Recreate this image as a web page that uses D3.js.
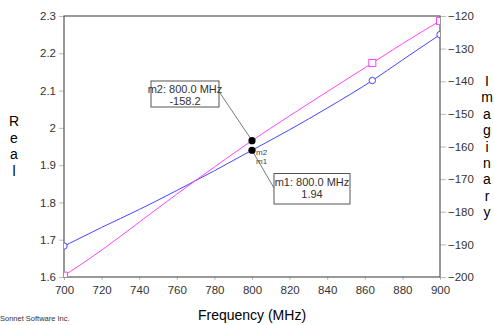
<!DOCTYPE html>
<html>
<head>
<meta charset="utf-8">
<script src="https://cdn.jsdelivr.net/npm/d3@7"></script>
<style>
  body { margin: 0; background: #fff; }
  svg { display: block; font-family: "Liberation Sans", Arial, sans-serif; }
</style>
</head>
<body>
<svg id="chart" width="494" height="325"></svg>
<script>
// --- data ---
const freqs    = [700, 720, 740, 760, 780, 800, 820, 840, 864, 880, 900];
const realVals = [1.683, 1.733, 1.781, 1.832, 1.885, 1.94, 1.995, 2.053, 2.127, 2.182, 2.25];
const imagVals = [-199.6, -191.8, -183.2, -174.6, -166.3, -158.2, -150.6, -143.2, -134.4, -128.5, -121.5];
const symbolFreqs = [700, 864, 900];
const xTicks    = [700, 720, 740, 760, 780, 800, 820, 840, 860, 880, 900];
const realTicks = [1.6, 1.7, 1.8, 1.9, 2, 2.1, 2.2, 2.3];
const imagTicks = [-200, -190, -180, -170, -160, -150, -140, -130, -120];
const markers = [
  { name: 'm1', freq: 800, value: 1.94, axis: 'real', text: '1.94' },
  { name: 'm2', freq: 800, value: -158.2, axis: 'imag', text: '-158.2' }
];

const svg = d3.select('#chart');
const L = 64, R = 440, T = 16, B = 277;

const x = d3.scaleLinear().domain([700, 900]).range([L, R]);
const yR = d3.scaleLinear().domain([1.6, 2.3]).range([B, T]);
const yI = d3.scaleLinear().domain([-200, -120]).range([B, T]);

const TXT = '#333';

svg.append('defs').append('clipPath').attr('id', 'plotClip')
  .append('rect').attr('x', L).attr('y', T).attr('width', R - L).attr('height', B - T);

// axes
const xAxis = svg.append('g').attr('transform', `translate(0,${B})`)
  .call(d3.axisBottom(x).tickValues(xTicks).tickSize(3).tickPadding(6).tickFormat(d3.format('d')));
const lAxis = svg.append('g').attr('transform', `translate(${L},0)`)
  .call(d3.axisLeft(yR).tickValues(realTicks).tickSize(5).tickPadding(3).tickFormat(d => d === 2 ? '2' : d3.format('.1f')(d)));
const rAxis = svg.append('g').attr('transform', `translate(${R},0)`)
  .call(d3.axisRight(yI).tickValues(imagTicks).tickSize(6).tickPadding(2).tickFormat(d3.format('d')));
[xAxis, lAxis, rAxis].forEach(a => {
  a.select('.domain').remove();
  a.selectAll('.tick line').attr('stroke', '#bbb');
  a.selectAll('.tick text').attr('fill', TXT).attr('font-size', 11.5)
    .attr('font-family', '"Liberation Sans", Arial, sans-serif');
});

// plot frame
svg.append('rect').attr('x', L).attr('y', T).attr('width', R - L).attr('height', B - T)
  .attr('fill', 'none').attr('stroke', '#555').attr('stroke-width', 1.2);

const plot = svg.append('g').attr('clip-path', 'url(#plotClip)');

const realData = freqs.map((f, i) => ({ f, v: realVals[i] }));
const imagData = freqs.map((f, i) => ({ f, v: imagVals[i] }));

const BLUE = '#4646ff', PINK = '#ff44ff';

plot.append('path').datum(realData)
  .attr('d', d3.line().x(d => x(d.f)).y(d => yR(d.v)).curve(d3.curveMonotoneX))
  .attr('fill', 'none').attr('stroke', BLUE).attr('stroke-width', 1);
plot.append('path').datum(imagData)
  .attr('d', d3.line().x(d => x(d.f)).y(d => yI(d.v)).curve(d3.curveMonotoneX))
  .attr('fill', 'none').attr('stroke', PINK).attr('stroke-width', 1);

// symbols
const symReal = realData.filter(d => symbolFreqs.includes(d.f));
const symImag = imagData.filter(d => symbolFreqs.includes(d.f));
plot.selectAll('.sr').data(symReal).join('circle')
  .attr('cx', d => x(d.f)).attr('cy', d => yR(d.v)).attr('r', 3.2)
  .attr('fill', '#fff').attr('stroke', BLUE).attr('stroke-width', 1);
plot.selectAll('.si').data(symImag).join('rect')
  .attr('x', d => x(d.f) - 3.5).attr('y', d => yI(d.v) - 3.5)
  .attr('width', 7).attr('height', 7)
  .attr('fill', '#fff').attr('stroke', PINK).attr('stroke-width', 1);

// markers
const mpos = m => ({ px: x(m.freq), py: m.axis === 'real' ? yR(m.value) : yI(m.value) });
const m1 = markers[0], m2 = markers[1];
const p1 = mpos(m1), p2 = mpos(m2);

// leader lines
svg.append('line').attr('x1', 220).attr('y1', 93).attr('x2', p2.px).attr('y2', p2.py)
  .attr('stroke', '#555').attr('stroke-width', 0.8);
svg.append('line').attr('x1', p1.px).attr('y1', p1.py).attr('x2', 274).attr('y2', 188)
  .attr('stroke', '#555').attr('stroke-width', 0.8);

[p1, p2].forEach(p => {
  svg.append('circle').attr('cx', p.px).attr('cy', p.py).attr('r', 3.6).attr('fill', '#000');
});
svg.append('text').attr('x', p1.px + 4).attr('y', p1.py + 4.5).attr('font-size', 8).attr('fill', '#444').text(m2.name);
svg.append('text').attr('x', p1.px + 4).attr('y', p1.py + 13.5).attr('font-size', 8).attr('fill', '#444').text(m1.name);

function box(bx, by, bw, bh, m) {
  svg.append('rect').attr('x', bx).attr('y', by).attr('width', bw).attr('height', bh)
    .attr('fill', '#fff').attr('stroke', '#555').attr('stroke-width', 1);
  svg.append('text').attr('x', bx + bw / 2).attr('y', by + 12).attr('text-anchor', 'middle')
    .attr('font-size', 11).attr('fill', TXT).text(`${m.name}: ${m.freq.toFixed(1)} MHz`);
  svg.append('text').attr('x', bx + bw / 2).attr('y', by + 24).attr('text-anchor', 'middle')
    .attr('font-size', 11).attr('fill', TXT).text(m.text);
}
box(151, 81, 68, 26, m2);
box(274, 173.5, 76, 30.5, m1);

// axis titles
'Real'.split('').forEach((c, i) => {
  svg.append('text').attr('x', 14).attr('y', 126 + i * 16.5).attr('text-anchor', 'middle')
    .attr('font-size', 14).attr('fill', '#000').text(c);
});
'Imaginary'.split('').forEach((c, i) => {
  svg.append('text').attr('x', 487).attr('y', 86 + i * 16.4).attr('text-anchor', 'middle')
    .attr('font-size', 14).attr('fill', '#000').text(c);
});
svg.append('text').attr('x', 252).attr('y', 320).attr('text-anchor', 'middle')
  .attr('font-size', 14).attr('fill', '#000').text('Frequency (MHz)');
svg.append('text').attr('x', 0).attr('y', 321).attr('font-size', 7.5).attr('fill', '#333')
  .text('Sonnet Software Inc.');
</script>
</body>
</html>
